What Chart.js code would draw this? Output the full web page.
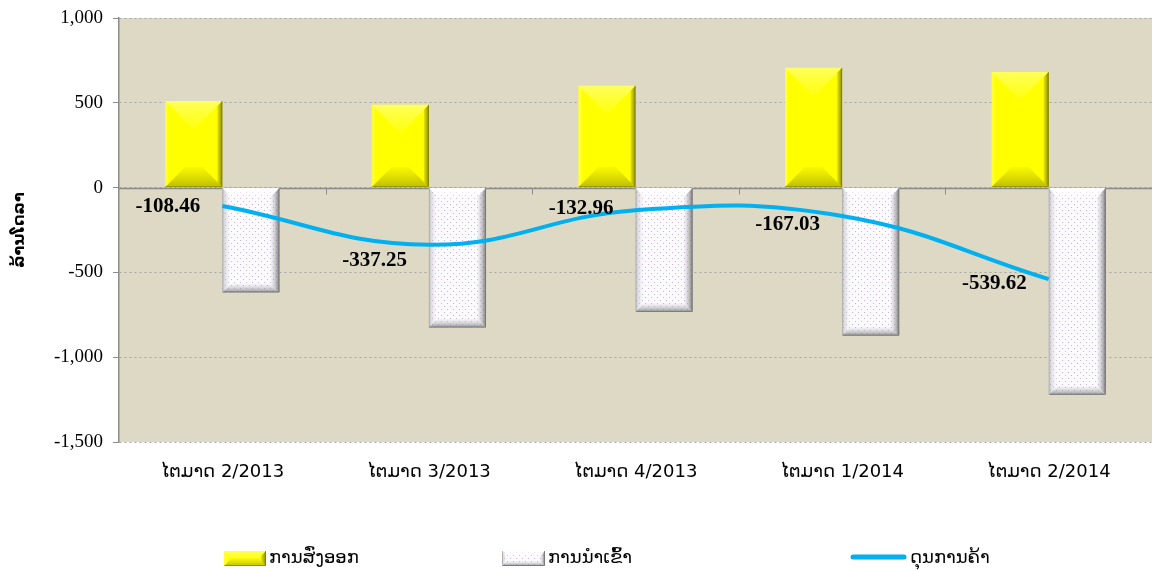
<!DOCTYPE html>
<html><head><meta charset="utf-8">
<script src="https://cdn.jsdelivr.net/npm/chart.js@4.4.0/dist/chart.umd.min.js"></script>
<style>html,body{margin:0;padding:0;background:#fff;overflow:hidden}#wrap{width:1152px;height:570px;}</style>
</head><body><div id="wrap"><canvas id="c" width="1152" height="570"></canvas></div>
<script>
const categories = ['ໄຕມາດ 2/2013','ໄຕມາດ 3/2013','ໄຕມາດ 4/2013','ໄຕມາດ 1/2014','ໄຕມາດ 2/2014'];
const exportsValues = [510, 488, 600, 706, 682];
const importsValues = [-618, -825, -733, -873, -1222];
const balanceValues = [-108.46, -337.25, -132.96, -167.03, -539.62];
const seriesNames = ['ການສົ່ງອອກ', 'ການນຳເຂົ້າ', 'ດຸນການຄ້າ'];
const yAxisTitle = 'ລ້ານໂດລາ';
const yMin = -1500, yMax = 1000, yStep = 500;

const LAO_FONT = '"DejaVu Sans", "Noto Sans", sans-serif';
const SERIF = '"Liberation Serif", "DejaVu Serif", serif';

function makePattern(){
  const p = document.createElement('canvas'); p.width = 6; p.height = 6;
  const g = p.getContext('2d');
  g.fillStyle = '#FBFAFD'; g.fillRect(0,0,6,6);
  g.fillStyle = '#C7B2DE'; g.fillRect(0,0,1,1); g.fillRect(3,3,1,1);
  return document.getElementById('c').getContext('2d').createPattern(p,'repeat');
}
const importPattern = makePattern();

function poly(ctx, pts, fill){
  ctx.beginPath(); ctx.moveTo(pts[0][0], pts[0][1]);
  for (let i=1;i<pts.length;i++) ctx.lineTo(pts[i][0], pts[i][1]);
  ctx.closePath(); ctx.fillStyle = fill; ctx.fill();
}
function lin(ctx, x0,y0,x1,y1, c0, c1){
  const g = ctx.createLinearGradient(x0,y0,x1,y1); g.addColorStop(0,c0); g.addColorStop(1,c1); return g;
}
function bevel(ctx, l, t, r, b, kind){
  const w = r-l, h = b-t;
  ctx.save();
  if (kind === 'exp'){
    const dt = Math.min(w*0.48, h/2), db = Math.min(w*0.35, h/2);
    poly(ctx, [[l,t],[r,t],[r-dt,t+dt],[l+dt,t+dt]], lin(ctx,0,t,0,t+dt,'rgba(255,255,170,0.55)','rgba(255,255,120,0.15)'));
    poly(ctx, [[l,b],[r,b],[r-db,b-db],[l+db,b-db]], lin(ctx,0,b,0,b-db,'rgba(110,110,0,0.45)','rgba(150,150,0,0.08)'));
    const e = Math.min(5, w/4);
    poly(ctx, [[r-e,t+e],[r,t],[r,b],[r-e,b-e]], lin(ctx,r-e,0,r,0,'rgba(90,90,0,0.15)','rgba(70,70,0,0.65)'));
    poly(ctx, [[l,t],[l+3,t+3],[l+3,b-3],[l,b]], 'rgba(255,255,200,0.25)');
    ctx.strokeStyle = 'rgba(120,120,0,0.6)'; ctx.lineWidth = 1;
    ctx.beginPath(); ctx.moveTo(l+0.5,b-0.5); ctx.lineTo(r-0.5,b-0.5); ctx.lineTo(r-0.5,t); ctx.stroke();
  } else {
    const d = Math.min(9, w/3, h/3);
    poly(ctx, [[l,t],[r,t],[r-d,t+d],[l+d,t+d]], lin(ctx,0,t,0,t+d,'rgba(255,255,255,0.9)','rgba(255,255,255,0.2)'));
    poly(ctx, [[l,t],[l+d,t+d],[l+d,b-d],[l,b]], lin(ctx,l,0,l+d,0,'rgba(150,150,150,0.55)','rgba(255,255,255,0.1)'));
    poly(ctx, [[r,t],[r-d,t+d],[r-d,b-d],[r,b]], lin(ctx,r,0,r-d,0,'rgba(90,90,90,0.8)','rgba(200,200,200,0.1)'));
    poly(ctx, [[l,b],[r,b],[r-d,b-d],[l+d,b-d]], lin(ctx,0,b,0,b-d,'rgba(110,110,110,0.75)','rgba(210,210,210,0.1)'));
    ctx.strokeStyle = 'rgba(120,120,120,0.9)'; ctx.lineWidth = 1;
    ctx.beginPath(); ctx.moveTo(l+0.5,b-0.5); ctx.lineTo(r-0.5,b-0.5); ctx.lineTo(r-0.5,t); ctx.stroke();
    ctx.strokeStyle = 'rgba(170,170,170,0.8)';
    ctx.beginPath(); ctx.moveTo(l+0.5,t); ctx.lineTo(l+0.5,b); ctx.stroke();
  }
  ctx.restore();
}

const plotBgPlugin = {
  id: 'plotBg',
  beforeDraw(chart){
    const {ctx, chartArea:a} = chart;
    ctx.save(); ctx.fillStyle = '#DDD9C4';
    ctx.fillRect(a.left, a.top, a.right-a.left, a.bottom-a.top);
    ctx.restore();
  },
  beforeDatasetsDraw(chart){
    const {ctx, chartArea:a, scales} = chart;
    const y0 = Math.round(scales.y.getPixelForValue(0)) + 0.5;
    ctx.save();
    ctx.strokeStyle = '#8C8C8C'; ctx.lineWidth = 1.5;
    ctx.beginPath(); ctx.moveTo(a.left, y0); ctx.lineTo(a.right, y0); ctx.stroke();
    const n = categories.length;
    const cw = (a.right - a.left) / n;
    ctx.lineWidth = 1;
    for (let i=1;i<n;i++){
      const x = Math.round(a.left + cw*i) + 0.5;
      ctx.beginPath(); ctx.moveTo(x, y0); ctx.lineTo(x, y0+6); ctx.stroke();
    }
    ctx.restore();
  },
  afterDatasetDraw(chart, args){
    const meta = args.meta;
    if (meta.type !== 'bar') return;
    const kind = args.index === 0 ? 'exp' : 'imp';
    const ctx = chart.ctx;
    meta.data.forEach(el => {
      const w = el.width;
      bevel(ctx, el.x - w/2, Math.min(el.y, el.base), el.x + w/2, Math.max(el.y, el.base), kind);
    });
  },
  afterDatasetsDraw(chart){
    const ctx = chart.ctx;
    const meta = chart.getDatasetMeta(2);
    const dy = [1, 16, -2, 9, 4];
    ctx.save();
    ctx.font = 'bold 21px ' + SERIF;
    ctx.fillStyle = '#000'; ctx.textAlign = 'right'; ctx.textBaseline = 'middle';
    meta.data.forEach((p, i) => {
      ctx.fillText(balanceValues[i].toFixed(2), p.x - 22, p.y + dy[i]);
    });
    ctx.restore();
  },
  afterDraw(chart){
    const ctx = chart.ctx;
    ctx.save();
    ctx.font = '18px ' + LAO_FONT;
    ctx.textBaseline = 'middle'; ctx.textAlign = 'left'; ctx.fillStyle = '#000';
    const yc = 558;
    ctx.fillStyle = '#FFFF00'; ctx.fillRect(224, 551, 42, 15);
    bevel(ctx, 224, 551, 266, 566, 'exp');
    ctx.fillStyle = '#000'; ctx.fillText(chart.data.datasets[0].label, 269, yc);
    ctx.fillStyle = importPattern; ctx.fillRect(502, 551, 43, 15);
    bevel(ctx, 502, 551, 545, 566, 'imp');
    ctx.fillStyle = '#000'; ctx.fillText(chart.data.datasets[1].label, 548, yc);
    ctx.strokeStyle = '#00B0F0'; ctx.lineWidth = 5; ctx.lineCap = 'round';
    ctx.beginPath(); ctx.moveTo(853, 557); ctx.lineTo(904, 557); ctx.stroke();
    ctx.fillText(chart.data.datasets[2].label, 910, yc);
    ctx.restore();
  }
};

new Chart(document.getElementById('c'), {
  data: {
    labels: categories,
    datasets: [
      { type:'bar', label: seriesNames[0], data: exportsValues, backgroundColor:'#FFFF00', borderWidth:0,
        barPercentage:1, categoryPercentage:0.553, order:2 },
      { type:'bar', label: seriesNames[1], data: importsValues, backgroundColor: importPattern, borderWidth:0,
        barPercentage:1, categoryPercentage:0.553, order:3 },
      { type:'line', label: seriesNames[2], data: balanceValues, borderColor:'#00B0F0', borderWidth:4,
        pointRadius:0, pointHoverRadius:0, tension:0.42, fill:false, order:1 }
    ]
  },
  options: {
    responsive:false, animation:false, devicePixelRatio:1,
    layout: { padding: { top:18, right:0, bottom:0, left:0 } },
    plugins: { legend:{display:false}, tooltip:{enabled:false}, title:{display:false} },
    scales: {
      x: {
        grid: { display:false, drawTicks:false },
        border: { display:false },
        ticks: { color:'#000', font:{ family: LAO_FONT, size:18 }, padding:20, maxRotation:0 },
        afterFit(s){ s.height = 128; s.paddingLeft = 0; s.paddingRight = 0; }
      },
      y: {
        min: yMin, max: yMax,
        ticks: { stepSize: yStep, color:'#000', font:{ family: SERIF, size:19 }, padding:10,
                 callback: v => v.toLocaleString('en-US') },
        grid: { color:'#A5A5A5', lineWidth:1, tickLength:6, tickColor:'#8C8C8C', drawTicks:true },
        border: { display:true, color:'#8C8C8C', width:1.5, dash:[2,3] },
        title: { display:true, text: yAxisTitle, color:'#000', font:{ family: LAO_FONT, size:16, weight:'bold' }, padding:{top:10,bottom:0} },
        afterFit(s){ s.width = 119; s.paddingTop = 0; s.paddingBottom = 0; }
      }
    }
  },
  plugins: [plotBgPlugin]
});
</script>
</body></html>
